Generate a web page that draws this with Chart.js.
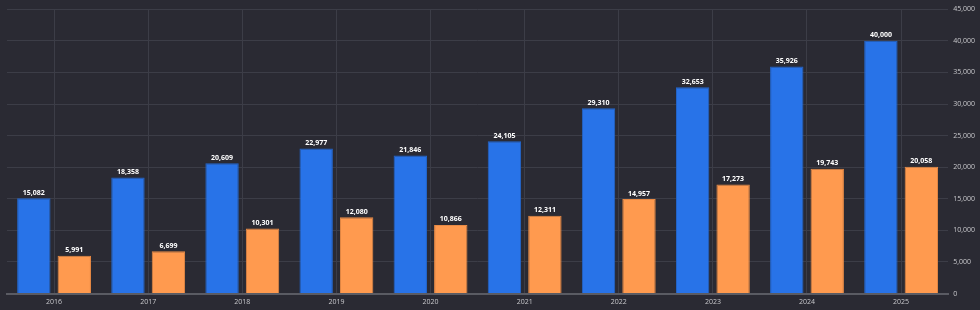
<!DOCTYPE html>
<html>
<head>
<meta charset="utf-8">
<script src="https://cdn.jsdelivr.net/npm/chart.js@4"></script>
<style>
  html, body { margin: 0; padding: 0; background: #2a2a33; }
  #wrap { width: 980px; height: 310px; }
</style>
</head>
<body>
<div id="wrap"><canvas id="chart"></canvas></div>
<script>
var years = ["2016", "2017", "2018", "2019", "2020", "2021", "2022", "2023", "2024", "2025"];
var blueValues = [15082, 18358, 20609, 22977, 21846, 24105, 29310, 32653, 35926, 40000];
var orangeValues = [5991, 6699, 10301, 12080, 10866, 12311, 14957, 17273, 19743, 20058];

// labels above each bar
var barLabels = {
  id: "barLabels",
  afterDatasetsDraw: function (chart) {
    var ctx = chart.ctx;
    ctx.save();
    ctx.fillStyle = "#ffffff";
    ctx.font = "bold 7px 'Open Sans'";
    ctx.textAlign = "center";
    ctx.textBaseline = "bottom";
    chart.data.datasets.forEach(function (ds, i) {
      chart.getDatasetMeta(i).data.forEach(function (bar, j) {
        ctx.fillText(ds.data[j].toLocaleString("en-US"), bar.x, bar.y - 2);
      });
    });
    ctx.restore();
  },
};

var ctx = document.getElementById("chart").getContext("2d");
var myChart = new Chart(ctx, {
  type: "bar",
  data: {
    labels: years,
    datasets: [
      {
        data: blueValues,
        backgroundColor: "#2873e8",
        borderColor: "#2366cc",
        borderWidth: 1,
      },
      {
        data: orangeValues,
        backgroundColor: "#ff9a4f",
        borderColor: "#e88a45",
        borderWidth: 1,
      },
    ],
  },
  options: {
    responsive: true,
    maintainAspectRatio: false,
    animation: false,
    categoryPercentage: 0.86,
    barPercentage: 0.825,
    layout: { padding: { left: 7, top: 1, right: 0, bottom: 0 } },
    plugins: {
      legend: { display: false },
      tooltip: { enabled: false },
    },
    scales: {
      x: {
        grid: { offset: false, color: "#3c3d47", drawTicks: false },
        border: { display: true, color: "#5a5b63", width: 2 },
        ticks: {
          color: "#c8c8cc",
          font: { family: "'Open Sans'", size: 7 },
          padding: 4,
        },
      },
      y: {
        position: "right",
        min: 0,
        max: 45000,
        grid: { color: "#3c3d47", drawTicks: false },
        border: { display: false },
        ticks: {
          stepSize: 5000,
          color: "#c8c8cc",
          font: { family: "'Open Sans'", size: 7 },
          padding: 5,
          callback: function (v) { return v.toLocaleString("en-US"); },
        },
      },
    },
  },
  plugins: [barLabels],
});
</script>
</body>
</html>
